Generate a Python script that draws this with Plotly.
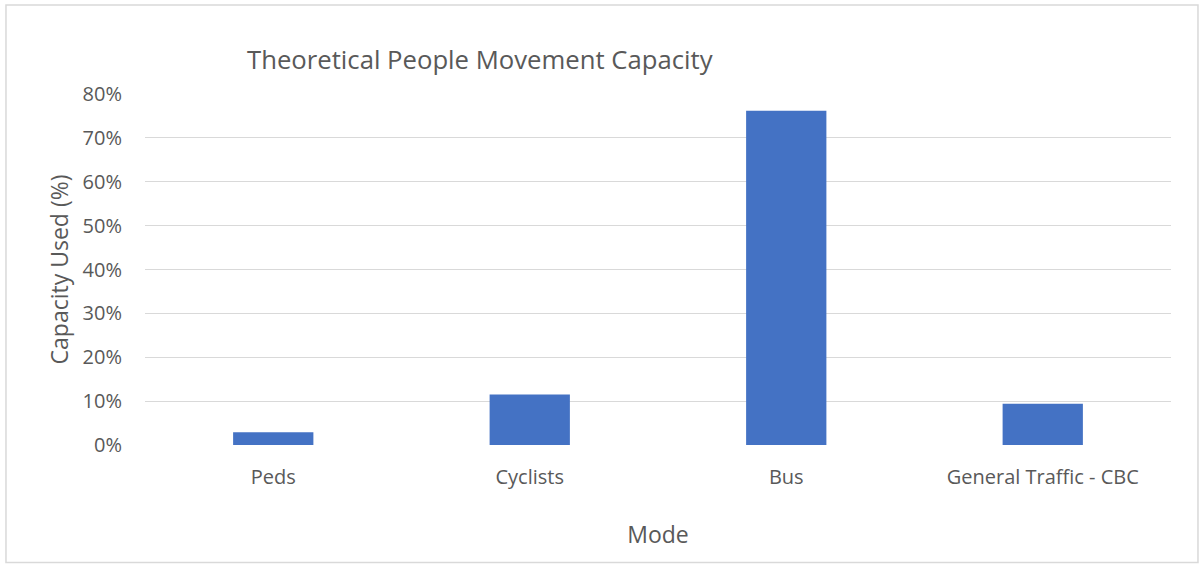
import plotly.graph_objects as go

# Share of theoretical capacity used by each travel mode
modes = ["Peds", "Cyclists", "Bus", "General Traffic - CBC"]
capacity_used = [0.029, 0.115, 0.762, 0.094]
y_ticks = [0, 0.1, 0.2, 0.3, 0.4, 0.5, 0.6, 0.7, 0.8]

TEXT = "#595959"
GRID = "#d9d9d9"
FONT = "Open Sans"

fig = go.Figure(
    go.Bar(x=modes, y=capacity_used, marker=dict(color="#4472C4", line=dict(width=0)))
)

fig.update_layout(
    width=1203,
    height=564,
    margin=dict(l=145, r=32, t=94, b=119),
    paper_bgcolor="white",
    plot_bgcolor="white",
    bargap=0.687,
    showlegend=False,
    font=dict(family=FONT, color=TEXT, size=20),
)

fig.update_yaxes(
    range=[0, 0.8],
    tickvals=y_ticks,
    tickformat=".0%",
    showgrid=True,
    gridcolor=GRID,
    gridwidth=1,
    zeroline=False,
    showline=False,
    ticks="",
    ticklabelstandoff=22,
    tickfont=dict(size=20, color=TEXT),
    title=dict(text="Capacity Used (%)", font=dict(size=23, color=TEXT), standoff=7),
)

fig.update_xaxes(
    showgrid=False,
    showline=False,
    zeroline=False,
    ticks="",
    ticklabelstandoff=18,
    tickfont=dict(size=20, color=TEXT),
    title=dict(text="Mode", font=dict(size=23, color=TEXT), standoff=37),
)

# Chart title, left-aligned above the plot
fig.add_annotation(
    text="Theoretical People Movement Capacity",
    xref="paper", yref="paper",
    x=0.0975, y=1.097,
    xanchor="left", yanchor="middle",
    showarrow=False,
    font=dict(size=25.7, color=TEXT, family=FONT),
)

# Light frame around the whole chart
fig.add_shape(
    type="rect",
    xref="paper", yref="paper",
    x0=-0.1355, x1=1.0263, y0=-0.3348, y1=1.2536,
    line=dict(color=GRID, width=1.5),
    fillcolor="rgba(0,0,0,0)",
    layer="below",
)

fig.write_html("out.html")
